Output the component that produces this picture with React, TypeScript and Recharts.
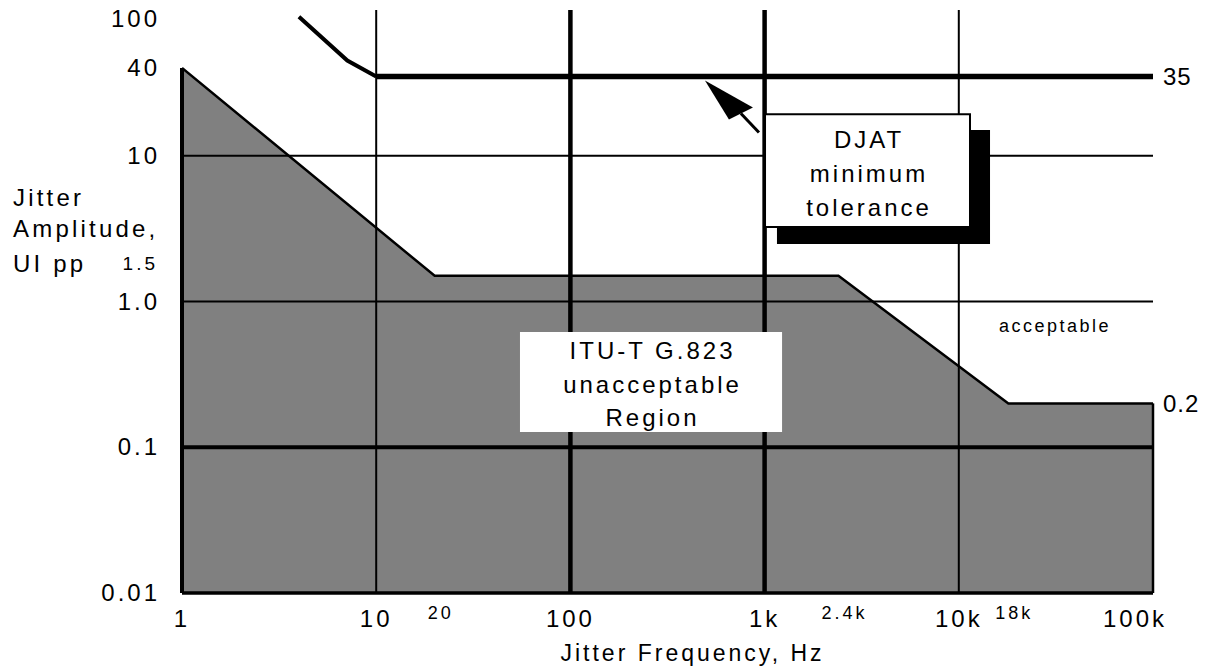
import React from 'react';
import {
  ComposedChart,
  Area,
  Line,
  XAxis,
  YAxis,
  ReferenceLine,
  ReferenceArea,
  ReferenceDot,
} from 'recharts';

const FONT = '"Liberation Sans", Arial, Helvetica, sans-serif';

// jitter frequency, Hz
const freqs = [1, 4, 7.1, 10, 20, 2400, 18000, 100000];
// ITU-T G.823 limit, UI pp (unacceptable region below it)
const g823 = [40, null, null, null, 1.5, 1.5, 0.2, 0.2];
// DJAT minimum tolerance, UI pp
const djatSlope = [null, 90, 45, 35, null, null, null, null];
const djatFlat = [null, null, null, 35, null, null, null, 35];

const xTicks = [1, 10, 100, 1000, 10000, 100000];
const xTickLabels = ['1', '10', '100', '1k', '10k', '100k'];
const xMinorTicks = [20, 2400, 18000];
const xMinorLabels = ['20', '2.4k', '18k'];

const yTicks = [0.01, 0.1, 1, 10, 40, 100];
const yTickLabels = ['0.01', '0.1', '1.0', '10', '40', '100'];
const yMinorTicks = [1.5];
const yMinorLabels = ['1.5'];

const rightTicks = [0.2, 35];
const rightTickLabels = ['0.2', '35'];

const data = freqs.map((f, i) => ({
  f,
  g823: g823[i],
  djatSlope: djatSlope[i],
  djatFlat: djatFlat[i],
}));

const allXTicks = [...xTicks, ...xMinorTicks].sort((a, b) => a - b);
const allYTicks = [...yTicks, ...yMinorTicks].sort((a, b) => a - b);

const textStyle = { fontFamily: FONT, fill: '#000' };

function XTick(props: any) {
  const { x, y, payload } = props;
  const i = xTicks.indexOf(payload.value);
  if (i >= 0) {
    // last label sits inside the right edge like the original
    const last = i === xTicks.length - 1;
    return (
      <text x={last ? x - 18 : x} y={y + 34} textAnchor="middle" fontSize={24} letterSpacing={3} style={textStyle}>
        {xTickLabels[i]}
      </text>
    );
  }
  const j = xMinorTicks.indexOf(payload.value);
  return (
    <text x={x + 6} y={y + 26} textAnchor="middle" fontSize={18} letterSpacing={3} style={textStyle}>
      {xMinorLabels[j]}
    </text>
  );
}

function YTick(props: any) {
  const { x, y, payload } = props;
  const i = yTicks.indexOf(payload.value);
  if (i >= 0) {
    return (
      <text x={x - 22} y={Math.max(y + 8, 27)} textAnchor="end" fontSize={24} letterSpacing={3} style={textStyle}>
        {yTickLabels[i]}
      </text>
    );
  }
  const j = yMinorTicks.indexOf(payload.value);
  return (
    <text x={x - 24} y={y - 6} textAnchor="end" fontSize={19} letterSpacing={3} style={textStyle}>
      {yMinorLabels[j]}
    </text>
  );
}

function RightTick(props: any) {
  const { x, y, payload } = props;
  const i = rightTicks.indexOf(payload.value);
  return (
    <text x={x + 10} y={y + 9} textAnchor="start" fontSize={24} letterSpacing={1} style={textStyle}>
      {rightTickLabels[i]}
    </text>
  );
}

function YTitle(props: any) {
  const { viewBox } = props;
  const lines = ['Jitter', 'Amplitude,', 'UI pp'];
  const offs = [196, 227, 262];
  return (
    <g>
      {lines.map((t, i) => (
        <text key={t} x={viewBox.x + 13} y={viewBox.y + offs[i]} fontSize={24} letterSpacing={3.2} style={textStyle}>
          {t}
        </text>
      ))}
    </g>
  );
}

function XTitle(props: any) {
  const { viewBox } = props;
  return (
    <text
      x={viewBox.x + viewBox.width / 2 + 25}
      y={viewBox.y + 68}
      textAnchor="middle"
      fontSize={23}
      letterSpacing={3}
      style={textStyle}
    >
      Jitter Frequency, Hz
    </text>
  );
}

function boxText(lines: string[], spacing: number, shift: number) {
  return (props: any) => {
    const { viewBox } = props;
    const cx = viewBox.x + viewBox.width / 2;
    const cy = viewBox.y + viewBox.height / 2 + shift;
    return (
      <g>
        {lines.map((t, i) => (
          <text
            key={t}
            x={cx + 1.5}
            y={cy + (i - 1) * spacing + 8.5}
            textAnchor="middle"
            fontSize={24}
            letterSpacing={3}
            style={textStyle}
          >
            {t}
          </text>
        ))}
      </g>
    );
  };
}

function Arrow(props: any) {
  const { cx, cy } = props;
  const tx = cx;
  const ty = cy + 4;
  return (
    <g>
      <line x1={tx + 36} y1={ty + 33} x2={tx + 54} y2={ty + 52} stroke="#000" strokeWidth={3} />
      <polygon points={`${tx},${ty} ${tx + 48},${ty + 27} ${tx + 24},${ty + 39}`} fill="#000" />
    </g>
  );
}

function AcceptableText(props: any) {
  const { cx, cy } = props;
  return (
    <text x={cx} y={cy + 6} textAnchor="middle" fontSize={18} letterSpacing={2.5} style={textStyle}>
      acceptable
    </text>
  );
}

const vGrid = [10, 100, 1000, 10000];
const vGridWidth = [2, 4.5, 4.5, 2];
const hGrid = [10, 1, 0.1];
const hGridWidth = [2, 2, 4];

export default function App() {
  return (
    <div style={{ position: 'absolute', left: 0, top: 0, width: 1212, height: 670, background: '#fff' }}>
      <ComposedChart
        width={1212}
        height={670}
        data={data}
        margin={{ top: 10, right: 0, bottom: 37, left: 0 }}
      >
        <XAxis
          dataKey="f"
          type="number"
          scale="log"
          domain={[1, 100000]}
          allowDataOverflow
          ticks={allXTicks}
          interval={0}
          axisLine={false}
          tickLine={false}
          tickSize={0}
          tickMargin={0}
          height={40}
          tick={<XTick />}
          label={XTitle}
        />
        <YAxis
          type="number"
          scale="log"
          domain={[0.01, 100]}
          allowDataOverflow
          ticks={allYTicks}
          interval={0}
          axisLine={false}
          tickLine={false}
          tickSize={0}
          tickMargin={0}
          width={182}
          tick={<YTick />}
          label={YTitle}
        />
        <YAxis
          yAxisId="r"
          orientation="right"
          type="number"
          scale="log"
          domain={[0.01, 100]}
          allowDataOverflow
          ticks={rightTicks}
          interval={0}
          axisLine={false}
          tickLine={false}
          tickSize={0}
          tickMargin={0}
          width={59}
          tick={<RightTick />}
        />
        <Area
          dataKey="g823"
          type="linear"
          stroke="#000"
          strokeWidth={2.5}
          fill="#808080"
          fillOpacity={1}
          connectNulls
          dot={false}
          activeDot={false}
          isAnimationActive={false}
          zIndex={100}
        />
        {vGrid.map((v, i) => (
          <ReferenceLine key={'v' + v} x={v} stroke="#000" strokeWidth={vGridWidth[i]} ifOverflow="visible" zIndex={150} />
        ))}
        {hGrid.map((v, i) => (
          <ReferenceLine key={'h' + v} y={v} stroke="#000" strokeWidth={hGridWidth[i]} ifOverflow="visible" zIndex={150} />
        ))}
        <ReferenceLine y={0.01} stroke="#000" strokeWidth={3.5} ifOverflow="visible" zIndex={150} />
        <ReferenceLine
          segment={[{ x: 1, y: g823[0] as number }, { x: 1, y: 0.01 }]}
          stroke="#000"
          strokeWidth={4}
          ifOverflow="visible"
          zIndex={150}
        />
        <ReferenceLine
          segment={[{ x: 100000, y: g823[7] as number }, { x: 100000, y: 0.01 }]}
          stroke="#000"
          strokeWidth={2.5}
          ifOverflow="visible"
          zIndex={150}
        />
        <Line
          dataKey="djatSlope"
          type="linear"
          stroke="#000"
          strokeWidth={4}
          dot={false}
          activeDot={false}
          connectNulls
          isAnimationActive={false}
          zIndex={400}
        />
        <Line
          dataKey="djatFlat"
          type="linear"
          stroke="#000"
          strokeWidth={5.5}
          dot={false}
          activeDot={false}
          connectNulls
          isAnimationActive={false}
          zIndex={400}
        />
        <ReferenceArea
          x1={1158}
          x2={14480}
          y1={2.48}
          y2={15}
          fill="#000"
          fillOpacity={1}
          stroke="none"
          ifOverflow="visible"
          zIndex={450}
        />
        <ReferenceArea
          x1={1005}
          x2={11420}
          y1={3.24}
          y2={19.3}
          fill="#fff"
          fillOpacity={1}
          stroke="#000"
          strokeWidth={2}
          ifOverflow="visible"
          zIndex={460}
          label={boxText(['DJAT', 'minimum', 'tolerance'], 34, 3)}
        />
        <ReferenceArea
          x1={55}
          x2={1230}
          y1={0.127}
          y2={0.618}
          fill="#fff"
          fillOpacity={1}
          stroke="none"
          ifOverflow="visible"
          zIndex={460}
          label={boxText(['ITU-T G.823', 'unacceptable', 'Region'], 33.5, 2)}
        />
        <ReferenceDot x={493} y={35} r={0} shape={<Arrow />} ifOverflow="visible" zIndex={600} />
        <ReferenceDot x={31300} y={0.68} r={0} shape={<AcceptableText />} ifOverflow="visible" zIndex={600} />
      </ComposedChart>
    </div>
  );
}
